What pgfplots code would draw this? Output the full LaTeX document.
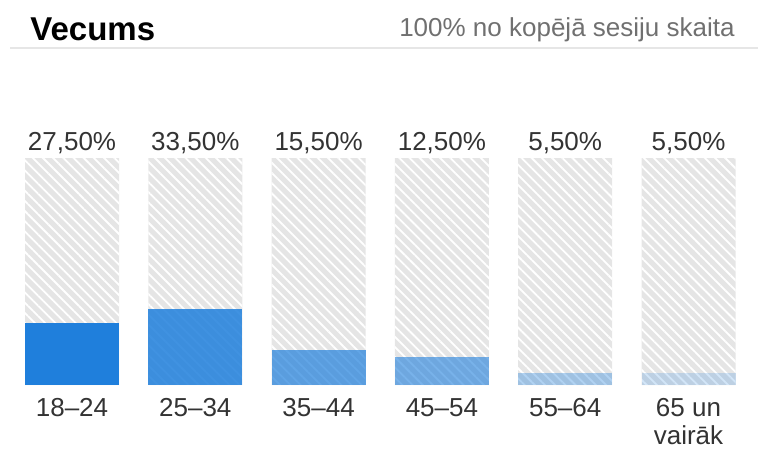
\documentclass[border=0pt]{standalone}
\usepackage{fontspec}
\setmainfont{Liberation Sans}
\usepackage{pgfplots}
\usepackage{pgfplotstable}
\pgfplotsset{compat=1.18}
\usetikzlibrary{patterns.meta}
\definecolor{bargray}{HTML}{E5E5E5}
\definecolor{barblue}{HTML}{1F7FDC}
\definecolor{txt}{HTML}{333333}
\definecolor{subtxt}{HTML}{707070}
\definecolor{rule}{HTML}{E6E6E6}

\pgfplotstableread{
x full val lab
0 100 27.5 27,50\%
1 100 33.5 33,50\%
2 100 15.5 15,50\%
3 100 12.5 12,50\%
4 100 5.5 5,50\%
5 100 5.5 5,50\%
}\agedata

\begin{document}
\begin{tikzpicture}
\useasboundingbox (0,0) rectangle (379pt,225.5pt);
\node[anchor=base west, inner sep=0, text=black] at (15pt,205pt) {\fontsize{16.5pt}{20pt}\selectfont\bfseries Vecums};
\node[anchor=base east, inner sep=0, text=subtxt] at (367.5pt,207.5pt) {\fontsize{13pt}{15pt}\selectfont 100\% no kopējā sesiju skaita};
\draw[rule, line width=1pt] (5pt,201.5pt) -- (379pt,201.5pt);
\begin{axis}[
  at={(36pt,33pt)}, anchor=origin,
  x=61.65pt, y=1.135pt,
  xmin=-0.5, xmax=5.5, ymin=0, ymax=100,
  clip=false,
  axis line style={draw=none},
  tick style={draw=none},
  ytick=\empty,
  xtick={0,1,2,3,4,5},
  xticklabels={18--24,25--34,35--44,45--54,55--64,{65 un\\vairāk}},
  xticklabel style={align=center, text=txt, font=\fontsize{13pt}{14pt}\selectfont, yshift=1pt},
  ybar, bar width=47pt,
]
\addplot[bar shift=0pt, fill=bargray, draw=none,
  postaction={pattern color=white, pattern={Lines[angle=-45, distance=3.6pt, line width=0.9pt]}},
  nodes near coords, point meta=explicit symbolic,
  every node near coord/.append style={text=txt, font=\fontsize{13pt}{15pt}\selectfont, inner sep=2pt}]
  table[x=x, y=full, meta=lab] \agedata;
\addplot[bar shift=0pt, fill=barblue, draw=none, fill opacity=1.0] coordinates {(0,27.5)};
\addplot[bar shift=0pt, fill=barblue, draw=none, fill opacity=0.85] coordinates {(1,33.5)};
\addplot[bar shift=0pt, fill=barblue, draw=none, fill opacity=0.7] coordinates {(2,15.5)};
\addplot[bar shift=0pt, fill=barblue, draw=none, fill opacity=0.6] coordinates {(3,12.5)};
\addplot[bar shift=0pt, fill=barblue, draw=none, fill opacity=0.35] coordinates {(4,5.5)};
\addplot[bar shift=0pt, fill=barblue, draw=none, fill opacity=0.2] coordinates {(5,5.5)};
\end{axis}
\end{tikzpicture}
\end{document}
